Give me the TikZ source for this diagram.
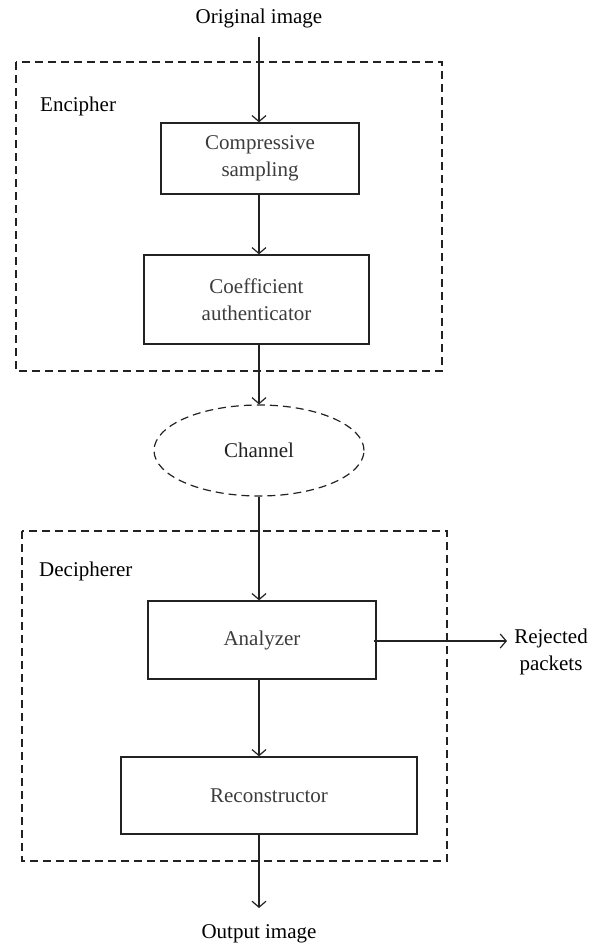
\documentclass[tikz,border=0pt]{standalone}
\usepackage{fontspec}
\setmainfont{Liberation Serif}
\usetikzlibrary{arrows.meta,shapes.geometric}
\definecolor{boxtext}{HTML}{3C3C3C}
\definecolor{linec}{HTML}{222222}
\begin{document}
\begin{tikzpicture}[x=1pt,y=-1pt,
  every node/.style={font=\fontsize{21}{27}\selectfont},
  procbox/.style={draw=linec,line width=1.3pt,align=center,text=boxtext,inner sep=0pt},
  groupbox/.style={draw=linec,line width=1.1pt,dash pattern=on 8pt off 5pt},
  arr/.style={draw=linec,line width=1.2pt,-{Straight Barb[length=6pt,width=14pt,line width=1.2pt]}},
  lbl/.style={text=black,inner sep=0pt}]
\useasboundingbox (0,0) rectangle (596,947);
% group boxes
\draw[groupbox] (16,62) rectangle (442,371);
\draw[groupbox] (22,531) rectangle (447,861);
% labels
\node[lbl] (orig) at (259,18) {Original image};
\node[lbl,anchor=west] (enc) at (40,106) {Encipher};
\node[lbl,anchor=west] (dec) at (39,571) {Decipherer};
\node[lbl] (outp) at (259,934) {Output image};
\node[lbl,align=center] (rej) at (551,652) {Rejected\\packets};
% process boxes
\node[procbox,minimum width=198pt,minimum height=71pt] (cs) at (260,158.5) {Compressive\\sampling};
\node[procbox,minimum width=225pt,minimum height=89pt] (ca) at (256.5,299.5) {Coefficient\\authenticator};
\node[procbox,ellipse,text=linec,dash pattern=on 8pt off 5pt,line width=1.2pt,minimum width=210pt,minimum height=91pt] (ch) at (259,450.5) {Channel};
\node[procbox,minimum width=228pt,minimum height=78pt] (an) at (262,640) {Analyzer};
\node[procbox,minimum width=296pt,minimum height=77pt] (rc) at (269,795.5) {Reconstructor};
% column
\coordinate (col) at (259,0);
\coordinate (origend) at (259,37);
\coordinate (outend) at (259,908);
\coordinate (rejend) at (507,641);
% connectors
\draw[arr] (origend) -- (cs.north -| col);
\draw[arr] (cs.south -| col) -- (ca.north -| col);
\draw[arr] (ca.south -| col) -- (ch.north);
\draw[arr] (ch.south) -- (an.north -| col);
\draw[arr] (an.south -| col) -- (rc.north -| col);
\draw[arr] (rc.south -| col) -- (outend);
\draw[arr] (an.east |- rejend) ++(-3,0) -- (rejend);
\end{tikzpicture}
\end{document}
